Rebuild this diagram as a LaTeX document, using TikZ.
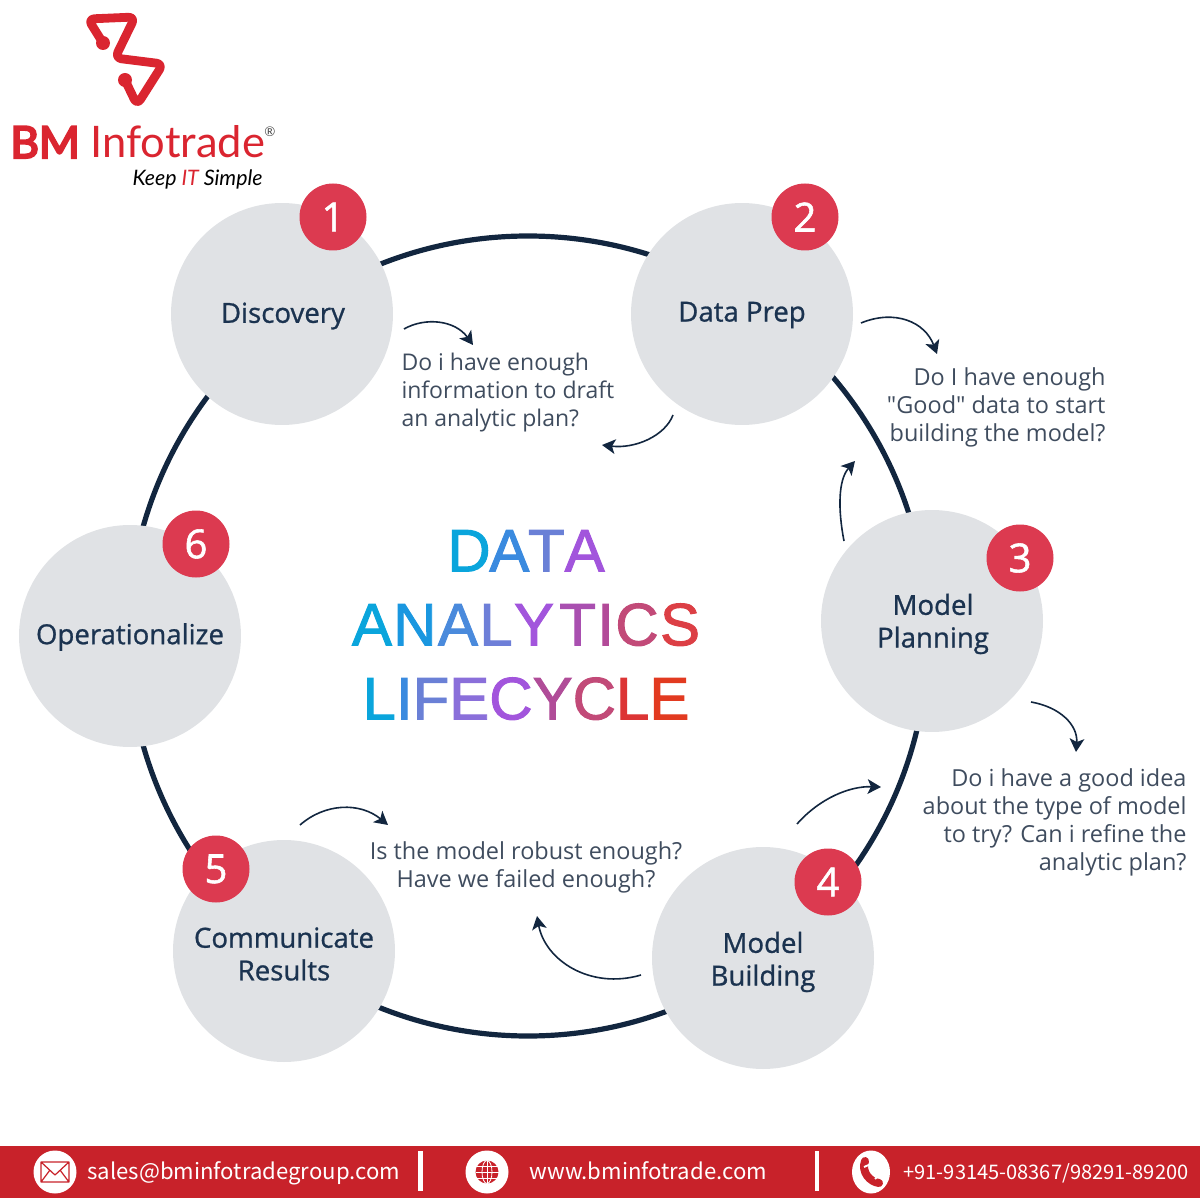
\documentclass[tikz,border=0pt]{standalone}
\usepackage{fontspec}
\setmainfont{Open Sans}
\newfontfamily\questionfont{Open Sans}
\newfontfamily\stagefont[FakeBold=0.9]{Open Sans}
\newfontfamily\badgefont[FakeBold=1.4]{Open Sans}
\newfontfamily\footerfont{Noto Sans CJK SC}
\newfontfamily\logofont{Lato}
\newfontfamily\logoboldfont[FakeBold=5]{Lato}
\newfontfamily\titlefont[FakeBold=1.6]{Liberation Sans}
\usetikzlibrary{arrows.meta,shapes.geometric}
\definecolor{ringnavy}{HTML}{12263F}
\definecolor{stagegrey}{HTML}{E0E2E5}
\definecolor{badgered}{HTML}{DC3A50}
\definecolor{labelnavy}{HTML}{1B3350}
\definecolor{questiongrey}{HTML}{3F4C5E}
\definecolor{bandred}{HTML}{C8222A}
\definecolor{logored}{HTML}{DA2530}
\newcommand{\ttl}[2]{\textcolor[HTML]{#1}{#2}}
\tikzset{every picture/.style={line width=0.75pt}}
\tikzset{
  stage/.style={circle,fill=stagegrey,minimum size=222pt*0.75,inner sep=0pt},
  stagelabel/.style={inner sep=0pt,align=center,text=labelnavy,font=\stagefont\fontsize{20.7}{24.5}\selectfont},
  badge/.style={circle,fill=badgered,minimum size=67pt*0.75,inner sep=0pt,text=white,font=\badgefont\fontsize{30}{32}\selectfont},
  question/.style={inner sep=0pt,text=questiongrey,font=\questionfont\fontsize{17.6}{21}\selectfont},
  flow/.style={draw=ringnavy,line width=1.2pt,-{Stealth[length=10pt,width=11pt,inset=2.5pt]}},
  bandtext/.style={text=white,inner sep=0pt,font=\footerfont\fontsize{16.6}{20}\selectfont},
  bandbar/.style={white,line width=3.2pt},
  bandicon/.style={ellipse,fill=white,inner sep=0pt}
}
\begin{document}
\begin{tikzpicture}[x=0.75pt,y=0.75pt,yscale=-1,xscale=1]
	\useasboundingbox (0,0) rectangle (1200,1198);

	%Shape: Ring
	\draw [ringnavy,line width=3.9pt] (528,636) circle [radius=400];

	%Stages
	\node [stage] (discovery) at (282,314) {};
	\node [stage] (dataprep) at (742,314) {};
	\node [stage] (planning) at (932,621) {};
	\node [stage] (building) at (763,958) {};
	\node [stage] (results) at (284,951) {};
	\node [stage] (operationalize) at (130,636) {};

	%Stage labels
	\node [stagelabel] (discoverytext) at (283,316) {Discovery};
	\node [stagelabel] (dataptext) at (742,315) {Data Prep};
	\node [stagelabel] (planningtext) at (933,624) {Model\\Planning};
	\node [stagelabel] (buildingtext) at (763,962) {Model\\Building};
	\node [stagelabel] (resultstext) at (284,954) {Communicate\\Results};
	\node [stagelabel] (operationalizetext) at (130,637) {Operationalize};

	%Badges
	\node [badge] (badgeone) at (333,217) {1};
	\node [badge] (badgetwo) at (805,217) {2};
	\node [badge] (badgethree) at (1020,558) {3};
	\node [badge] (badgefour) at (828,882) {4};
	\node [badge] (badgefive) at (216,869) {5};
	\node [badge] (badgesix) at (196,544) {6};

	%Questions
	\node [question,align=left,anchor=west,font=\questionfont\fontsize{17.25}{21}\selectfont] (qone) at (401,393) {Do i have enough\\information to draft\\an analytic plan?};
	\node [question,align=right,anchor=east] (qtwo) at (1106,407) {Do I have enough\\"Good" data to start\\building the model?};
	\node [question,align=right,anchor=east] (qthree) at (1187,822) {Do i have a good idea\\about the type of model\\to try? Can i refine the\\analytic plan?};
	\node [question,align=center] (qfour) at (526,867) {Is the model robust enough?\\Have we failed enough?};

	%Curved arrows
	\coordinate (fa1) at (404,329);
	\coordinate (fa2) at (473,345);
	\coordinate (fb1) at (673,415);
	\coordinate (fb2) at (602,445);
	\coordinate (fc1) at (861,323);
	\coordinate (fc2) at (937,354);
	\coordinate (fd1) at (844,541);
	\coordinate (fd2) at (855,461);
	\coordinate (fe1) at (1031,702);
	\coordinate (fe2) at (1076,752);
	\coordinate (ff1) at (797,824);
	\coordinate (ff2) at (881,787);
	\coordinate (fg1) at (641,975);
	\coordinate (fg2) at (537,916);
	\coordinate (fh1) at (300,825);
	\coordinate (fh2) at (388,825);
	\draw [flow] (fa1) .. controls (425,317) and (455,320) .. (fa2);
	\draw [flow] (fb1) .. controls (665,436) and (635,449) .. (fb2);
	\draw [flow] (fc1) .. controls (895,309) and (925,322) .. (fc2);
	\draw [flow] (fd1) .. controls (838,510) and (838,480) .. (fd2);
	\draw [flow] (fe1) .. controls (1060,707) and (1078,725) .. (fe2);
	\draw [flow] (ff1) .. controls (820,798) and (850,786) .. (ff2);
	\draw [flow] (fg1) .. controls (590,990) and (545,960) .. (fg2);
	\draw [flow] (fh1) .. controls (325,803) and (360,802) .. (fh2);

	%Title
	\node [align=center,inner sep=0pt,font=\titlefont\fontsize{45}{55.5}\selectfont] (title) at (526,625) {%
	\ttl{0AA5DC}{D}\kern-1pt\ttl{3A8ADF}{A}\kern-1pt\ttl{6A80D6}{T}\ttl{A255DC}{A}\\
	\ttl{0AA5DC}{A}\kern1pt\ttl{1A97E0}{N}\kern1pt\ttl{4A8ADC}{A}\kern1pt\ttl{6E7FD8}{L}\kern1pt\ttl{A255DC}{Y}\kern4pt\ttl{A94FB0}{T}\kern1pt\ttl{B24A98}{I}\kern1pt\ttl{C24A78}{C}\kern1pt\ttl{DC3F45}{S}\\
	\ttl{0AA5DC}{L}\ttl{3A8ADF}{I}\ttl{6A80D6}{F}\ttl{8A6FDA}{E}\ttl{A255DC}{C}\ttl{B04C98}{Y}\ttl{C24A78}{C}\ttl{DC3535}{L}\ttl{E23A20}{E}};

	%Logo
	\coordinate (logodotone) at (103,43);
	\coordinate (logodottwo) at (125,80);
	\draw [logored,line width=6.6pt,line join=round,line cap=round,rounded corners=5pt] (logodotone) -- (88,19) -- (135,17) -- (115,58) -- (163,64) -- (137,105) -- (logodottwo);
	\fill [logored] (logodotone) circle [radius=7];
	\fill [logored] (logodottwo) circle [radius=7];
	\node [anchor=base west,inner sep=0pt,text=logored,font=\logoboldfont\fontsize{33}{36}\selectfont] (logobm) at (10,158) {BM};
	\node [anchor=base west,inner sep=0pt,text=logored,font=\logofont\fontsize{32.6}{36}\selectfont] (logoname) at (90,158) {Infotrade};
	\node [anchor=center,inner sep=0pt,text=black!70,font=\logofont\fontsize{10}{10}\selectfont] (logomark) at (270,132) {®};
	\node [anchor=base west,inner sep=0pt,font=\logofont\itshape\fontsize{16}{18}\selectfont] (slogan) at (132,186) {Keep \textcolor{logored}{IT} Simple};

	%Footer band
	\fill [bandred] (0,1146) rectangle (1200,1198);
	\node [bandicon,minimum width=43pt*0.75,minimum height=43pt*0.75] (mailicon) at (55,1172) {};
	\node [bandicon,minimum width=43pt*0.75,minimum height=43pt*0.75] (webicon) at (487,1172) {};
	\node [bandicon,minimum width=38pt*0.75,minimum height=43pt*0.75] (phoneicon) at (871,1172) {};
	\node [bandtext,anchor=base west] (mailtext) at (87,1179) {sales@bminfotradegroup.com};
	\node [bandtext,anchor=base west] (webtext) at (529,1179) {www.bminfotrade.com};
	\node [bandtext,anchor=base west,font=\footerfont\fontsize{15.05}{20}\selectfont] (phonetext) at (903,1179) {+91-93145-08367/98291-89200};
	\draw [bandbar] (420.5,1151) -- (420.5,1191);
	\draw [bandbar] (817,1151) -- (817,1191);

	%Mail glyph
	\draw [bandred,line width=0.9pt,line join=round] (41,1162) rectangle (69,1182) (41,1162) -- (55,1175) -- (69,1162) (41,1182) -- (50,1170) (69,1182) -- (60,1170);
	%Globe glyph
	\fill [bandred] (487,1172) circle [radius=11.5];
	\draw [white,line width=0.6pt] (476,1166) -- (498,1166) (475.5,1172) -- (498.5,1172) (476,1178) -- (498,1178) (487,1160.5) -- (487,1183.5);
	\draw [white,line width=0.6pt] (487,1172) ellipse [x radius=5,y radius=11.5];
	%Phone glyph
	\draw [bandred,line width=6pt,line cap=round] (865,1161) .. controls (861,1172) and (870,1182) .. (879,1183);
	\draw [white,line width=1.4pt] (864,1167) -- (871,1164) (875,1179) -- (880,1174);
\end{tikzpicture}
\end{document}
